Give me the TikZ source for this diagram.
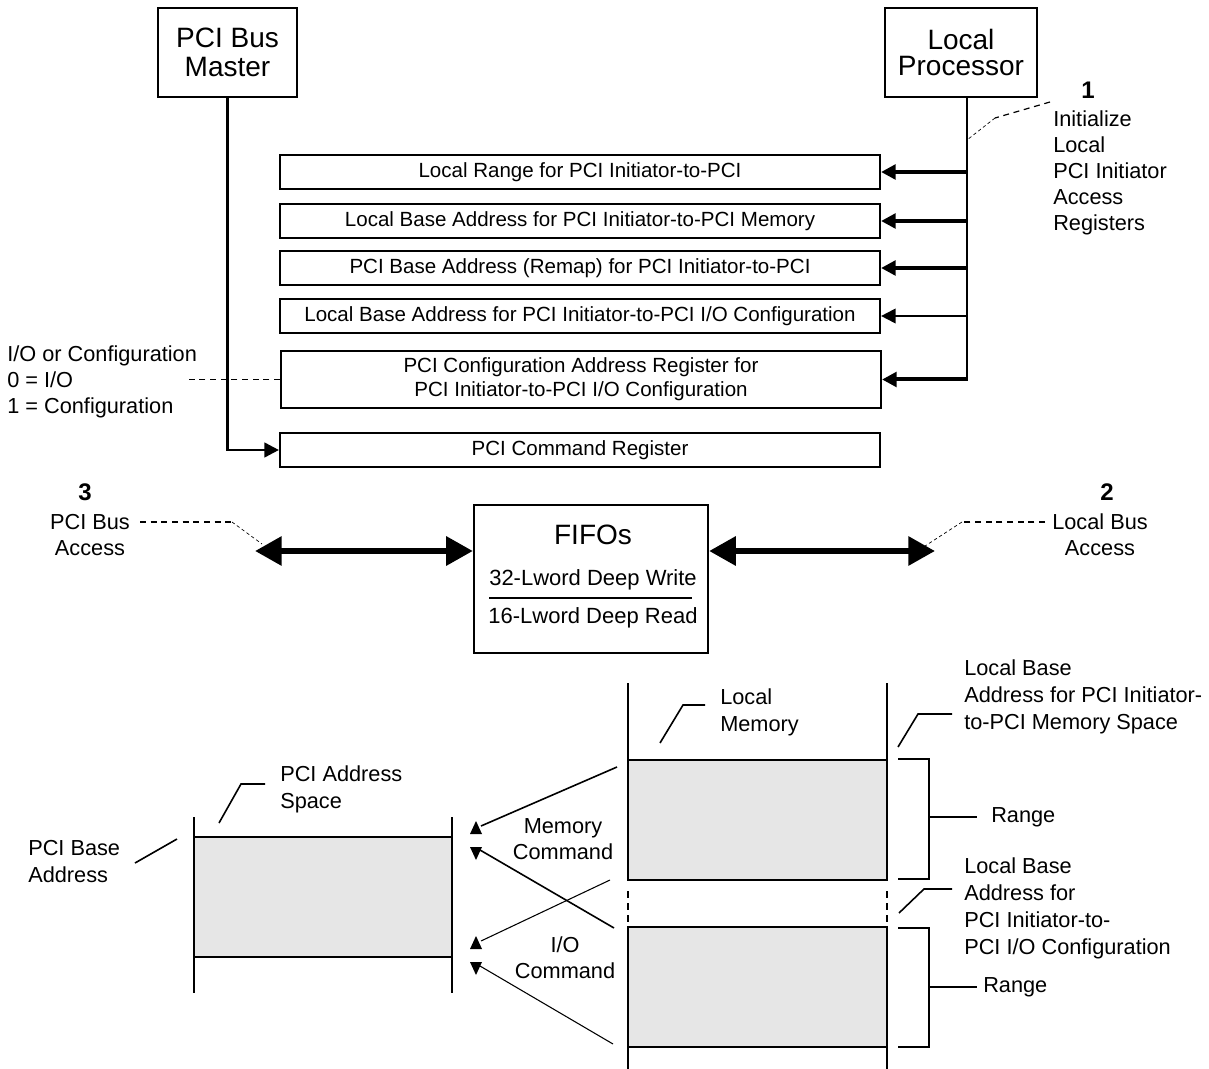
\documentclass[tikz,border=0pt]{standalone}
\usepackage{fontspec}
\setmainfont{Liberation Sans}
\usetikzlibrary{arrows.meta}
\definecolor{blockgray}{RGB}{230,230,230}

\begin{document}
\begin{tikzpicture}[x=0.75pt,y=0.75pt,yscale=-1,xscale=1,
  unit/.style={draw,line width=1.7pt,inner sep=0pt,align=center,font=\fontsize{21}{21.75}\selectfont},
  reg/.style={draw,line width=1.6pt,inner sep=0pt,minimum width=450pt,minimum height=25.5pt,align=center,font=\fontsize{15.4}{18}\selectfont},
  lbl/.style={inner sep=0pt,font=\fontsize{16.3}{19.5}\selectfont},
  lblb/.style={inner sep=0pt,align=left,font=\fontsize{16.3}{20.3}\selectfont},
  num/.style={inner sep=0pt,font=\fontsize{18}{20}\selectfont\bfseries},
  regarrow/.style={line width=3pt,-{Triangle[length=11pt,width=11pt]}},
  busarrow/.style={line width=4.5pt,{Triangle[length=20pt,width=21pt]}-{Triangle[length=20pt,width=21pt]}},
  note/.style={line width=0.9pt,dash pattern=on 4.5pt off 3.5pt},
  notefine/.style={line width=0.5pt,dash pattern=on 2.5pt off 2pt},
  lead/.style={line width=1.2pt},
  memline/.style={line width=1.9pt},
  uptri/.pic={\fill (-6,-6) -- (6,-6) -- (0,7) -- cycle;},
  downtri/.pic={\fill (-6,6) -- (6,6) -- (0,-7) -- cycle;}]
\useasboundingbox (0,0) rectangle (1209,1069);

\node[unit,minimum width=104.25pt,minimum height=66.75pt] (master) at (227.5,52.5) {PCI Bus\\Master};
\node[unit,minimum width=114pt,minimum height=66.75pt] (proc) at (961,52.5) {Local\\[-2pt]Processor};

\node[reg] (r1) at (580,172) {Local Range for PCI Initiator-to-PCI};
\node[reg] (r2) at (580,221) {Local Base Address for PCI Initiator-to-PCI Memory};
\node[reg] (r3) at (580,268) {PCI Base Address (Remap) for PCI Initiator-to-PCI};
\node[reg] (r4) at (580,316) {Local Base Address for PCI Initiator-to-PCI I/O Configuration};
\node[reg,minimum height=42.75pt] (r5) at (581,379.5) {PCI Configuration Address Register for\\PCI Initiator-to-PCI I/O Configuration};
\node[reg] (r6) at (580,450) {PCI Command Register};

\draw[memline] ([xshift=4.5pt]proc.south) coordinate (pb) -- (pb |- r5.east);
\foreach \r in {r1,r2,r3,r5}
  \draw[regarrow] ([xshift=0.7pt]pb |- \r.east) -- (\r.east);
\draw[regarrow,line width=1.5pt] (pb |- r4.east) -- (r4.east);
\draw[regarrow,line width=2pt] (master.south) |- (r6.west);

\node[num] (n1) at (1088,90) {1};
\node[lbl,anchor=north west,align=left] (init) at (1053,110) {Initialize\\Local\\PCI Initiator\\Access\\Registers};
\draw[note] ([xshift=-2.25pt,yshift=-6pt]init.north west) -- (995,118) coordinate (c1);
\draw[notefine] (c1) -- (pb |- 0,140);

\node[lbl,anchor=north west,align=left] (iocfg) at (7,345) {I/O or Configuration\\0 = I/O\\1 = Configuration};
\draw[note] (r5.west) -- ++(-92,0);

\node[draw,line width=1.7pt,minimum width=175.5pt,minimum height=111pt] (fifo) at (591,579) {};
\node[inner sep=0pt,font=\fontsize{21}{23}\selectfont] (fifot) at (593,535) {FIFOs};
\node[inner sep=0pt,font=\fontsize{16.5}{18}\selectfont] (fifow) at (593,580) {32-Lword Deep Write};
\node[inner sep=0pt,font=\fontsize{16.5}{18}\selectfont] (fifor) at (593,618) {16-Lword Deep Read};
\draw[line width=1.5pt] (489,598) -- (692,598);

\coordinate (pcbus) at (255,551);
\coordinate (lcbus) at (935,551);
\draw[busarrow] (pcbus) -- (pcbus -| fifo.west);
\draw[busarrow] (fifo.east |- lcbus) -- (lcbus);

\node[num] (n3) at (85,492) {3};
\node[lbl,align=center] (pciacc) at (90,535) {PCI Bus\\Access};
\draw[note] (140,522) -- (232,522) coordinate (c3);
\draw[notefine] (c3) -- (262,544);
\node[num] (n2) at (1107,492) {2};
\node[lbl,align=center] (locacc) at (1100,534.5) {Local Bus\\Access};
\draw[note] (1045,522) -- (962,522) coordinate (c2);
\draw[notefine] (c2) -- (925,546);

\fill[blockgray] (628,760) rectangle (887,880);
\fill[blockgray] (628,927) rectangle (887,1047);
\draw[line width=1pt] (628,760) -- (887,760);
\draw[line width=2pt] (628,880) -- (887,880);
\draw[line width=1pt] (628,927) -- (887,927);
\draw[line width=1pt] (628,1047) -- (887,1047);
\foreach \x in {628,887} {
  \draw[memline] (\x,683) -- (\x,881);
  \draw[memline,dash pattern=on 5pt off 4pt] (\x,891) -- (\x,925);
  \draw[memline] (\x,926) -- (\x,1069);
}
\draw[lead] (898,759) -- (929,759) -- (929,879) -- (898,879);
\draw[lead] (929,817) -- (977,817);
\node[lbl,anchor=west] (rng1) at (991,817) {Range};
\draw[lead] (898,928) -- (929,928) -- (929,1047) -- (898,1047);
\draw[lead] (929,987) -- (977,987);
\node[lbl,anchor=west] (rng2) at (983,987) {Range};

\node[lblb,anchor=north west] (lmem) at (720,688) {Local\\Memory};
\draw[lead] (660,743) -- (683,705) -- (705,705);
\node[lblb,anchor=north west] (lbam) at (964,659) {Local Base\\Address for PCI Initiator-\\to-PCI Memory Space};
\draw[lead] (898,747) -- (918,714) -- (952,714);
\node[lblb,anchor=north west] (lbaio) at (964,857) {Local Base\\Address for\\PCI Initiator-to-\\PCI I/O Configuration};
\draw[lead] (899,913) -- (924,889) -- (952,889);

\fill[blockgray] (194,837) rectangle (452,957);
\draw[line width=1.5pt] (194,837) -- (452,837);
\draw[line width=1pt] (194,957) -- (452,957);
\foreach \x in {194,452}
  \draw[memline] (\x,817) -- (\x,993);
\node[lblb,anchor=north west] (pcias) at (280,765) {PCI Address\\Space};
\draw[lead] (219,823) -- (241,784) -- (265,784);
\node[lblb,anchor=north west] (pcib) at (28,840) {PCI Base\\Address};
\draw[lead] (135,863) -- (177,839);

\node[lbl,align=center] (memcmd) at (563,839.5) {Memory\\Command};
\node[lbl,align=center] (iocmd) at (565,958) {I/O\\Command};
\pic at (476,828) {uptri};
\pic at (476,853) {downtri};
\pic at (476,943) {uptri};
\pic at (476,968) {downtri};
\draw[line width=1.2pt] (617,767) -- (481,826);
\draw[line width=1.2pt] (614,928) -- (480,850);
\draw[line width=0.8pt] (610,880) -- (481,941);
\draw[line width=0.8pt] (613,1044) -- (480,966);
\end{tikzpicture}
\end{document}
